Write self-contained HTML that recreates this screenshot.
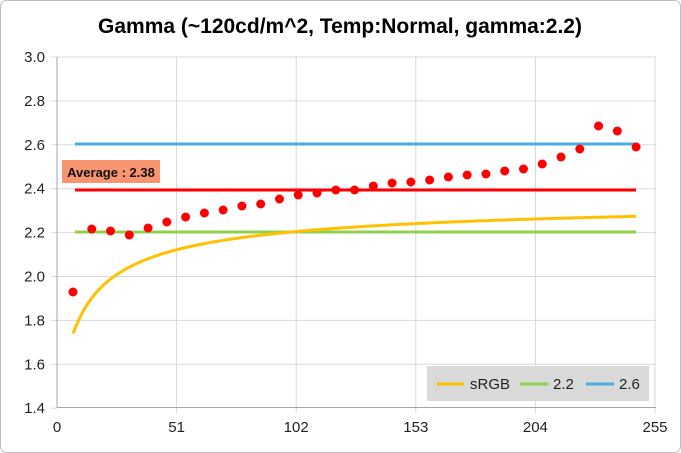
<!DOCTYPE html>
<html><head><style>
body{margin:0;background:#fff}
svg{display:block;font-family:"Liberation Sans",sans-serif}
</style></head><body>
<svg id="s" width="681" height="453" viewBox="0 0 681 453">
<rect x="0.5" y="0.5" width="680" height="452" rx="6" fill="#fff" stroke="#bfbfbf"/>
<text x="340" y="33" text-anchor="middle" font-size="21" font-weight="bold" fill="#000">Gamma (~120cd/m^2, Temp:Normal, gamma:2.2)</text>
<g id="grid" stroke="#d9d9d9" stroke-width="1"></g>
<g id="lbl" font-size="15" fill="#222"></g>
<line x1="57" y1="57" x2="57" y2="408" stroke="#a6a6a6"/>
<line x1="57" y1="407.5" x2="656" y2="407.5" stroke="#a6a6a6"/>
<line x1="75" y1="144" x2="636" y2="144" stroke="#4aaee0" stroke-width="3"/>
<line x1="75" y1="232" x2="636" y2="232" stroke="#8fd14f" stroke-width="3"/>
<line x1="75" y1="190" x2="636" y2="190" stroke="#ff0000" stroke-width="3"/>
<path id="srgb" fill="none" stroke="#ffc000" stroke-width="3"/>
<g id="dots" fill="#ff0000"></g>
<rect x="62" y="160" width="98" height="23" fill="#f8946f"/>
<text x="111" y="177" text-anchor="middle" font-size="13" font-weight="bold" fill="#111">Average : 2.38</text>
<rect x="427" y="366" width="222" height="35" fill="#d9d9d9"/>
<line x1="437" y1="384" x2="464" y2="384" stroke="#ffc000" stroke-width="3"/>
<text x="470" y="389" font-size="15" fill="#222">sRGB</text>
<line x1="520" y1="384" x2="548" y2="384" stroke="#8fd14f" stroke-width="3"/>
<text x="553" y="389" font-size="15" fill="#222">2.2</text>
<line x1="586" y1="384" x2="614" y2="384" stroke="#4aaee0" stroke-width="3"/>
<text x="619" y="389" font-size="15" fill="#222">2.6</text>
</svg>
<script>
var NS="http://www.w3.org/2000/svg";
function el(p,t,a,txt){var e=document.createElementNS(NS,t);for(var k in a)e.setAttribute(k,a[k]);if(txt)e.textContent=txt;document.getElementById(p).appendChild(e);}
var xs=[0,51,102,153,204,255];
xs.forEach(function(v){var x=57+v*(655-57)/255;
 if(v>0)el("grid","line",{x1:x,y1:57,x2:x,y2:413});
 el("lbl","text",{x:x,y:432,"text-anchor":"middle"},String(v));});
for(var i=0;i<=8;i++){var v=3.0-i*0.2;var y=57+i*43.9;
 if(i<8)el("grid","line",{x1:51,y1:y,x2:656,y2:y});
 else el("grid","line",{x1:51,y1:y,x2:57,y2:y});
 el("lbl","text",{x:45,y:y+5,"text-anchor":"end"},v.toFixed(1));}
function Y(g){return 408-(g-1.4)*219.5;}
function X(c){return 54.2+c*2.346;}
var d="";
for(var c=8;c<=248;c+=1){var v=c/255;var L=v<=0.04045?v/12.92:Math.pow((v+0.055)/1.055,2.4);var g=Math.log(L)/Math.log(v);
 d+=(c==8?"M":"L")+X(c).toFixed(1)+" "+Y(g).toFixed(1);}
document.getElementById("srgb").setAttribute("d",d);
var ys=[292,229,231,235,228,222,217,213,210,206,204,199,195,193,190,190,186,183,182,180,177,175,174,171,169,164,157,149,126,131,147];
ys.forEach(function(y,i){el("dots","circle",{cx:73+i*18.77,cy:y,r:4.5});});
</script>
</body></html>
